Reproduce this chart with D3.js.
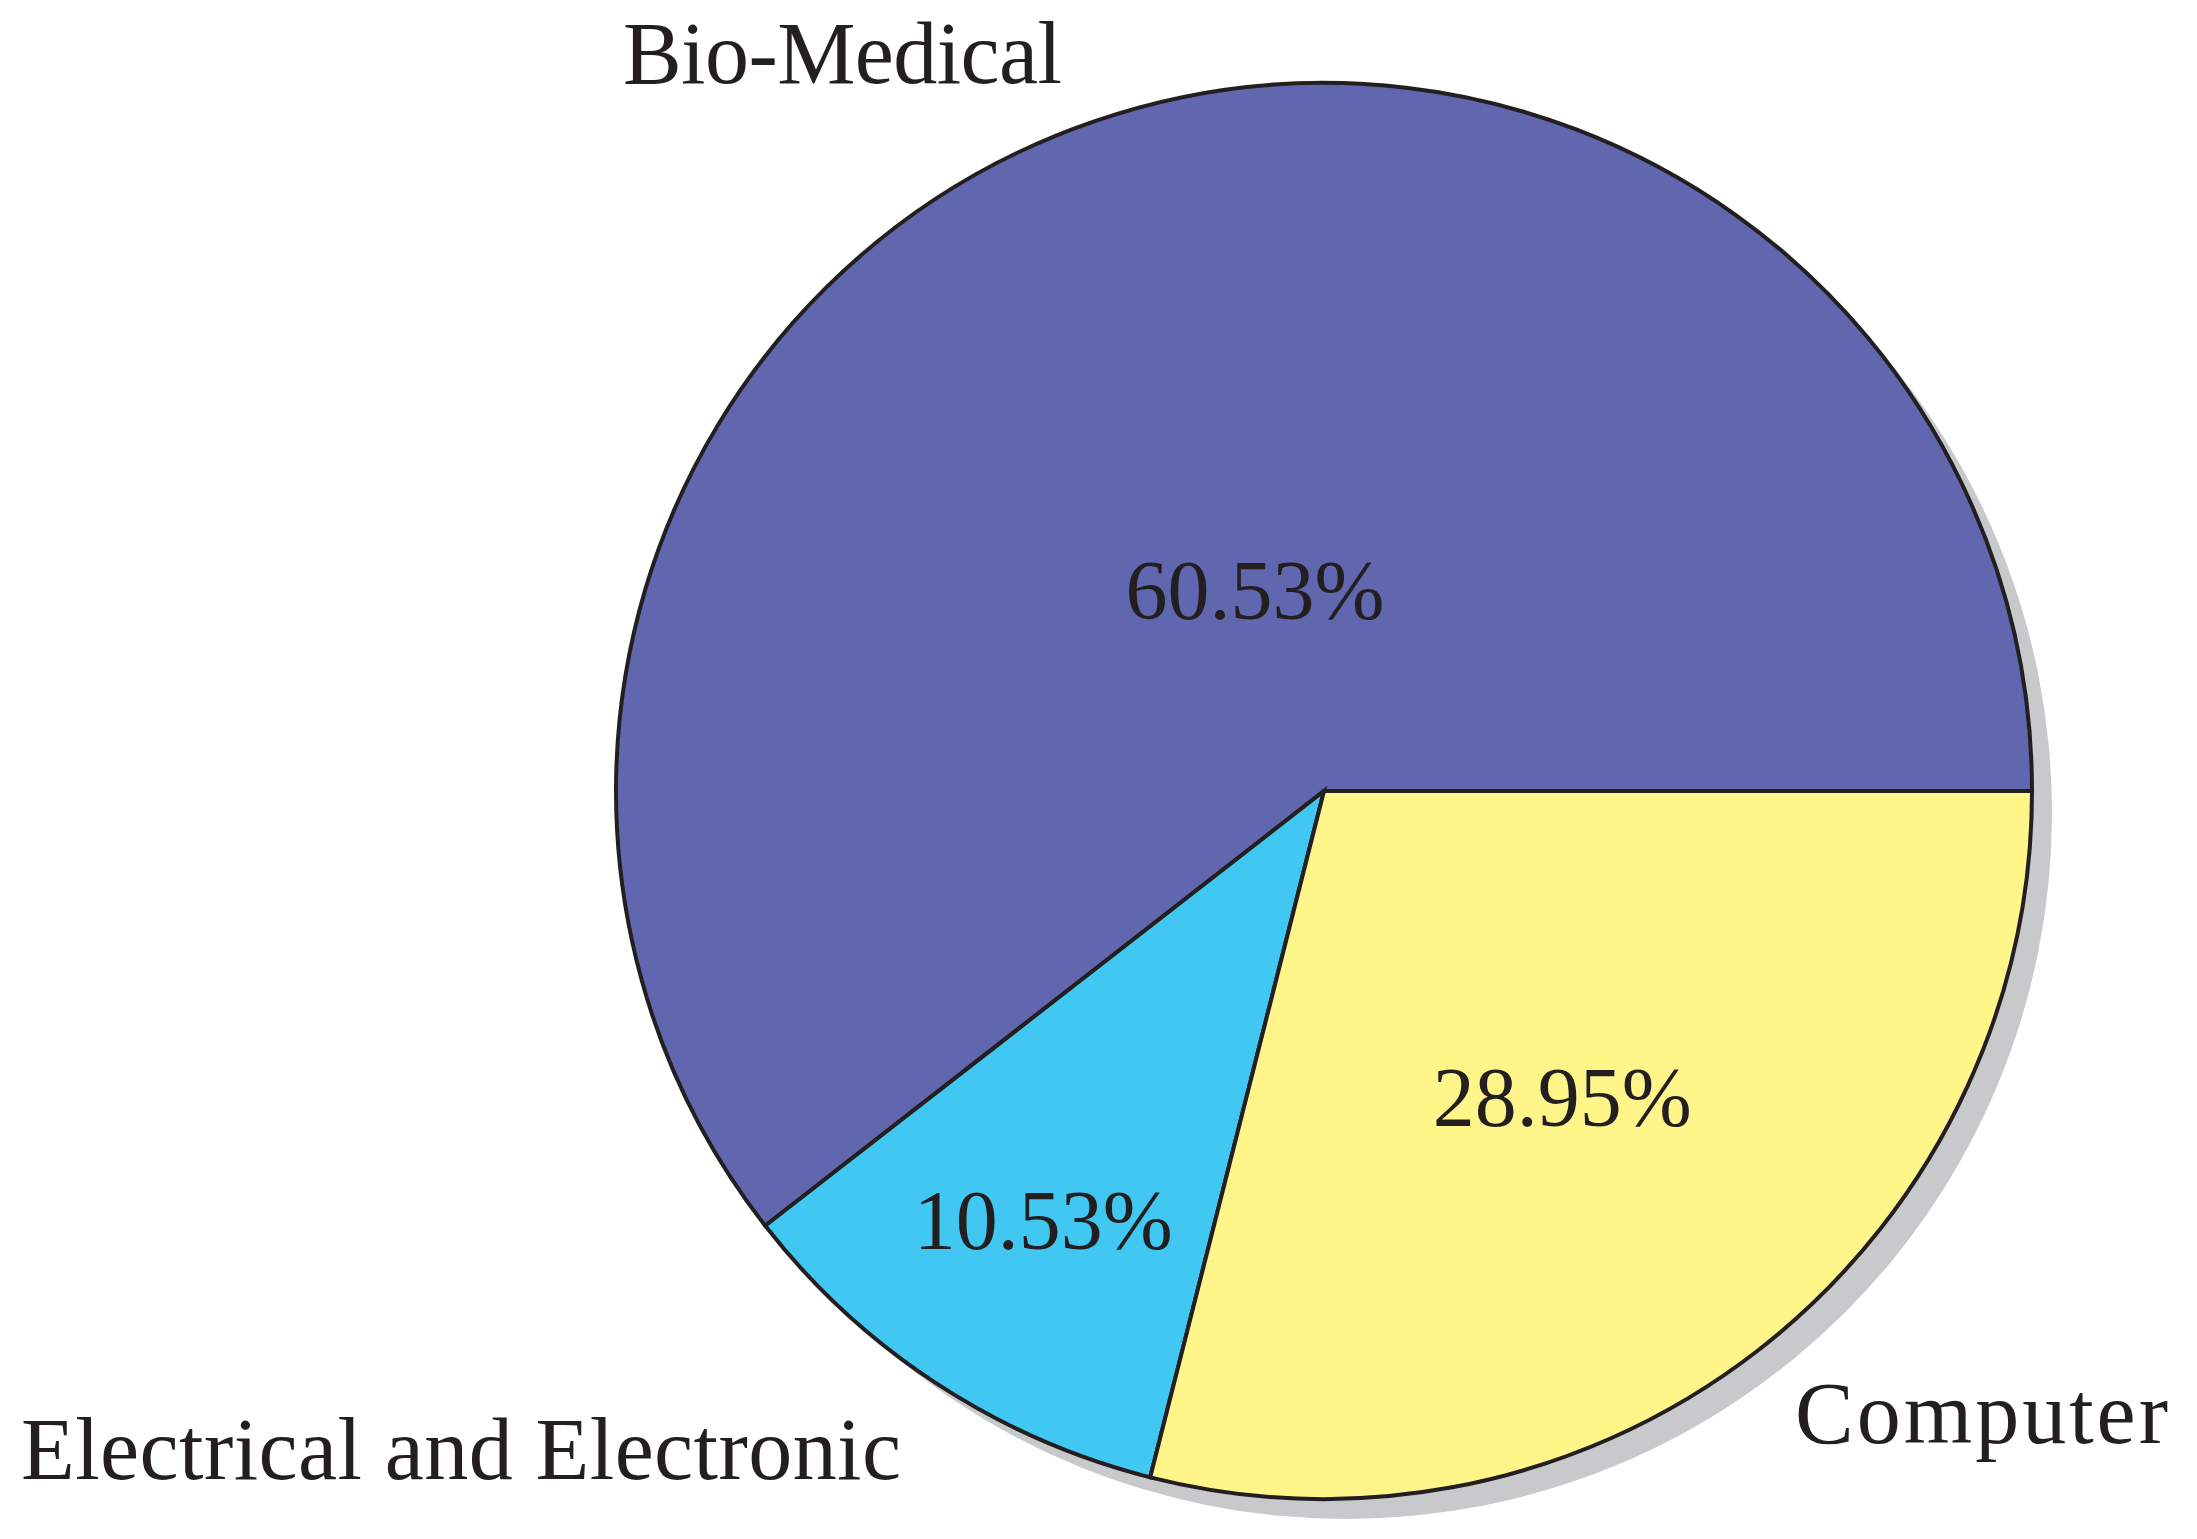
<!DOCTYPE html>
<html>
<head>
<meta charset="utf-8">
<script src="https://cdn.jsdelivr.net/npm/d3@7"></script>
<style>
  body { margin: 0; background: #fff; }
  text { font-family: "Liberation Serif", "Times New Roman", serif; fill: #231f20; }
</style>
</head>
<body>
<div id="chart"></div>
<script>
// data
var categories = ["Bio-Medical", "Electrical and Electronic", "Computer"];
var shares = [60.53, 10.53, 28.95];
var shareLabels = ["60.53%", "10.53%", "28.95%"];
var colors = ["#6067ae", "#40c8f2", "#fff588"];

var svgWidth = 2197;
var svgHeight = 1539;

var cx = 1324, cy = 791;
var radius = 708;

var svg = d3.select("#chart")
    .append("svg")
    .attr("width", svgWidth)
    .attr("height", svgHeight);

var chartGroup = svg.append("g")
    .attr("transform", `translate(${cx}, ${cy})`);

// slices start at 3 o'clock and run counter-clockwise
var pie = d3.pie()
    .sort(null)
    .value(d => d)
    .startAngle(Math.PI / 2)
    .endAngle(Math.PI / 2 - 2 * Math.PI);

var arcs = pie(shares);

var arc = d3.arc()
    .innerRadius(0)
    .outerRadius(radius);

// drop shadow
chartGroup.append("circle")
    .attr("cx", 22)
    .attr("cy", 22)
    .attr("r", radius - 2)
    .attr("fill", "#c8c9cb");

chartGroup.selectAll("path.slice")
    .data(arcs)
    .enter()
    .append("path")
    .attr("class", "slice")
    .attr("d", arc)
    .attr("fill", (d, i) => colors[i])
    .attr("stroke", "#231f20")
    .attr("stroke-width", 4)
    .attr("stroke-linejoin", "miter");

// percentage labels, placed along each slice's mid angle
var labelRadius = [0.30, 0.725, 0.548];

chartGroup.selectAll("text.pct")
    .data(arcs)
    .enter()
    .append("text")
    .attr("class", "pct")
    .attr("x", (d, i) => {
        var a = (d.startAngle + d.endAngle) / 2;
        return Math.sin(a) * radius * labelRadius[i];
    })
    .attr("y", (d, i) => {
        var a = (d.startAngle + d.endAngle) / 2;
        return -Math.cos(a) * radius * labelRadius[i];
    })
    .attr("dy", "0.34em")
    .attr("text-anchor", "middle")
    .style("font-size", "84px")
    .text((d, i) => shareLabels[i]);

// category labels outside the pie
var namePos = [
    {x: 623, y: 83, len: 439},
    {x: 21, y: 1479, len: 880},
    {x: 1795, y: 1443, len: 373}
];

svg.selectAll("text.name")
    .data(categories)
    .enter()
    .append("text")
    .attr("class", "name")
    .attr("x", (d, i) => namePos[i].x)
    .attr("y", (d, i) => namePos[i].y)
    .attr("textLength", (d, i) => namePos[i].len)
    .attr("lengthAdjust", "spacing")
    .style("font-size", "88px")
    .text(d => d);
</script>
</body>
</html>
